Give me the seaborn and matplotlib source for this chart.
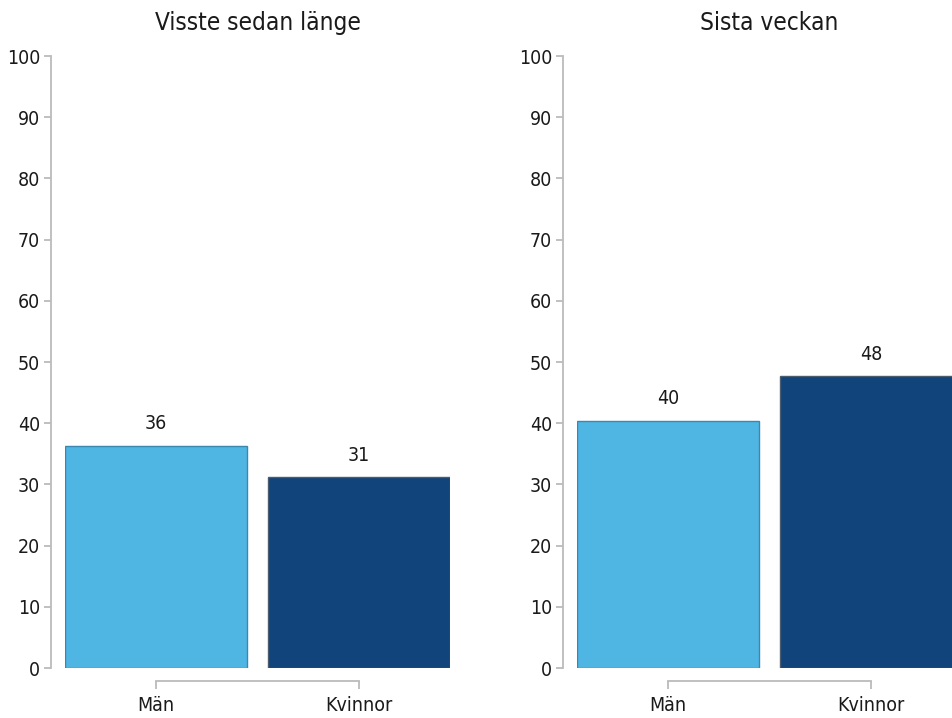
import matplotlib
matplotlib.use("Agg")
import matplotlib.pyplot as plt
from matplotlib import font_manager
import seaborn as sns
import pandas as pd

# data
categories = ["Män", "Kvinnor"]
panel_titles = ["Visste sedan länge", "Sista veckan"]
visste_sedan_lange = [36.3, 31.2]
sista_veckan = [40.4, 47.7]
bar_colors = ["#4fb6e4", "#11447b"]
edge_colors = ["#3a88b0", "#4a5d70"]

sns.set_style("ticks")

# pick a narrow font if there is one
names = {f.name for f in font_manager.fontManager.ttflist}
stretch = "normal"
if "Liberation Sans Narrow" in names:
    family = "Liberation Sans Narrow"
elif any(f.name == "DejaVu Sans" and f.stretch == "condensed" for f in font_manager.fontManager.ttflist):
    family = "DejaVu Sans"
    stretch = "condensed"
else:
    family = "Liberation Sans"
plt.rcParams["font.family"] = [family, "DejaVu Sans"]
plt.rcParams["font.stretch"] = stretch
plt.rcParams["text.color"] = "#1a1a1a"
plt.rcParams["xtick.color"] = "#bbbbbb"
plt.rcParams["ytick.color"] = "#bbbbbb"
plt.rcParams["xtick.labelcolor"] = "#1a1a1a"
plt.rcParams["ytick.labelcolor"] = "#1a1a1a"

fig = plt.figure(figsize=(9.52, 7.18), dpi=100)
ax1 = fig.add_axes([0.0683, 0.0696, 0.4044, 0.8524])
ax2 = fig.add_axes([0.6061, 0.0696, 0.4044, 0.8524])

for ax, title, values in zip([ax1, ax2], panel_titles, [visste_sedan_lange, sista_veckan]):
    df = pd.DataFrame({"kon": categories, "andel": values})
    sns.barplot(data=df, x="kon", y="andel", hue="kon", palette=bar_colors,
                saturation=1, width=0.9, legend=False, ax=ax)
    for patch, ec in zip(ax.patches, edge_colors):
        patch.set_edgecolor(ec)
        patch.set_linewidth(1.0)
    for cont in ax.containers:
        ax.bar_label(cont, fmt="%.0f", padding=9, fontsize=14, color="#1a1a1a")

    ax.set_xlim(-0.45, 1.45)
    ax.set_ylim(0, 100)
    ax.set_yticks(range(0, 101, 10))
    ax.set_xlabel("")
    ax.set_ylabel("")
    ax.set_title(title, fontsize=17.5, pad=19)
    ax.tick_params(axis="y", length=5, width=1.3, labelsize=14, pad=3)
    ax.tick_params(axis="x", length=6, width=1.3, labelsize=14, pad=5)
    for side in ["top", "right"]:
        ax.spines[side].set_visible(False)
    ax.spines["left"].set_position(("outward", 10))
    ax.spines["bottom"].set_position(("outward", 9))
    ax.spines["left"].set_color("#bbbbbb")
    ax.spines["bottom"].set_color("#bbbbbb")
    ax.spines["left"].set_linewidth(1.3)
    ax.spines["bottom"].set_linewidth(1.3)
    ax.spines["left"].set_bounds(0, 100)
    ax.spines["bottom"].set_bounds(0, 1)

plt.savefig("out.png", dpi=100)
